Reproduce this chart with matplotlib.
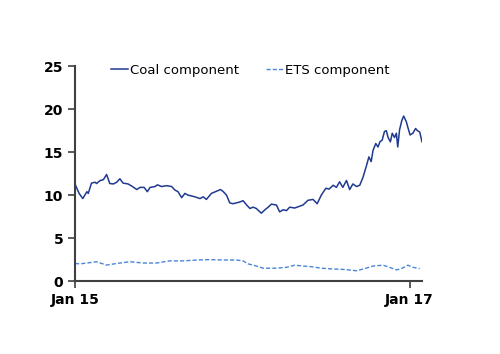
import pandas as pd
import matplotlib
matplotlib.use("Agg")
import matplotlib.pyplot as plt
import matplotlib.dates as mdates

# days after 1 Jan 2015
coal_days = [0, 4, 9, 17, 26, 29, 36, 44, 47, 55, 62, 69, 76, 84, 91, 98, 105, 116, 124, 135,
             142, 151, 158, 164, 175, 180, 189, 200, 211, 218, 225, 233, 240, 247, 262, 273,
             280, 287, 298, 309, 318, 324, 331, 338, 345, 353, 360, 367, 375, 382, 389, 396,
             407, 415, 422, 429, 440, 447, 455, 462, 469, 480, 498, 509, 520, 529, 538, 548,
             555, 564, 571, 578, 585, 593, 600, 607, 615, 622, 629, 636, 642, 647, 651, 657,
             662, 666, 671, 676, 680, 684, 689, 693, 698, 702, 705, 709, 714, 718, 724, 727,
             732, 738, 744, 748, 753, 758]
coal = [11.3, 10.8, 10.2, 9.6, 10.4, 10.2, 11.4, 11.5, 11.35, 11.7, 11.8, 12.4, 11.35, 11.3,
        11.5, 11.9, 11.4, 11.3, 11.05, 10.65, 10.9, 10.9, 10.4, 10.9, 11.0, 11.2, 11.0, 11.1,
        11.0, 10.6, 10.4, 9.7, 10.2, 10.0, 9.8, 9.6, 9.8, 9.5, 10.2, 10.45, 10.65, 10.4, 10.0,
        9.1, 9.0, 9.1, 9.2, 9.35, 8.85, 8.45, 8.6, 8.45, 7.9, 8.3, 8.6, 8.95, 8.85, 8.05, 8.3,
        8.2, 8.6, 8.5, 8.85, 9.4, 9.5, 9.0, 10.0, 10.8, 10.7, 11.15, 10.9, 11.55, 10.9, 11.7,
        10.65, 11.3, 11.0, 11.15, 12.05, 13.3, 14.45, 13.9, 15.2, 16.0, 15.6, 16.2, 16.4,
        17.4, 17.5, 16.7, 16.2, 17.2, 16.7, 17.2, 15.6, 17.6, 18.7, 19.2, 18.5, 17.9, 17.0,
        17.2, 17.75, 17.5, 17.35, 16.2]

ets_days = [0, 11, 26, 47, 69, 91, 120, 149, 178, 207, 236, 266, 295, 324, 353, 367, 378,
            382, 396, 411, 440, 462, 480, 498, 520, 538, 564, 589, 615, 633, 651, 673, 687,
            702, 713, 727, 738, 753]
ets = [2.05, 2.0, 2.1, 2.25, 1.86, 2.05, 2.25, 2.1, 2.1, 2.35, 2.35, 2.45, 2.5, 2.45, 2.45,
       2.35, 2.0, 1.95, 1.75, 1.5, 1.5, 1.6, 1.85, 1.75, 1.65, 1.5, 1.4, 1.35, 1.2, 1.45,
       1.75, 1.85, 1.6, 1.3, 1.45, 1.85, 1.6, 1.45]

start = pd.Timestamp("2015-01-01")
coal_x = [start + pd.Timedelta(days=d) for d in coal_days]
ets_x = [start + pd.Timedelta(days=d) for d in ets_days]

fig = plt.figure(figsize=(5, 3.54), dpi=100)
ax = fig.add_axes([0.15, 0.206, 0.694, 0.607])

ax.plot(coal_x, coal, color="#1f3a8f", lw=1.1, label="Coal component")
ax.plot(ets_x, ets, color="#4a86d8", lw=1.0, ls=(0, (3, 1.5)), label="ETS component")

ax.set_ylim(0, 25)
ax.set_yticks([0, 5, 10, 15, 20, 25])
ax.set_xlim(start, start + pd.Timedelta(days=758))
ax.set_xticks([start, pd.Timestamp("2017-01-01")])
ax.xaxis.set_major_formatter(mdates.DateFormatter("Jan %y"))

for s in ["top", "right"]:
    ax.spines[s].set_visible(False)
for s in ["left", "bottom"]:
    ax.spines[s].set_color("#404040")
    ax.spines[s].set_linewidth(1.5)
ax.tick_params(axis="both", colors="#404040", width=1.2, length=5, direction="out")
ax.tick_params(axis="both", labelcolor="black", labelsize=10)
for lab in ax.get_xticklabels() + ax.get_yticklabels():
    lab.set_fontweight("bold")

ax.legend(loc="upper center", bbox_to_anchor=(0.505, 1.065), ncol=2, frameon=False,
          handlelength=1.3, handletextpad=0.1, columnspacing=2.1, fontsize=9.5)

fig.savefig("out.png", dpi=100)
